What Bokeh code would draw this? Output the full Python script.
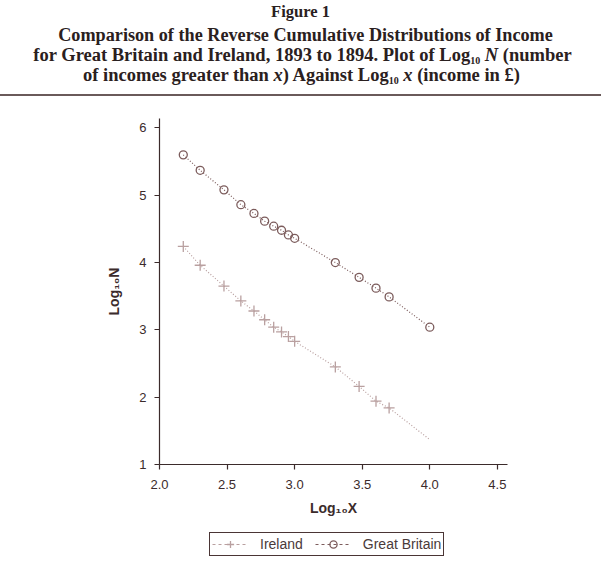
from bokeh.plotting import figure
from bokeh.models import (FixedTicker, Legend, LegendItem, CustomJSTickFormatter,
                          Div, Range1d)
from bokeh.layouts import column
from bokeh.embed import file_html
from bokeh.resources import INLINE

# log10 of income thresholds (pounds)
log_income = [2.176, 2.301, 2.477, 2.602, 2.699, 2.778, 2.845, 2.903,
              2.954, 3.000, 3.301, 3.477, 3.602, 3.699, 4.000]

# log10 of number of incomes above each threshold
great_britain = [5.60, 5.37, 5.08, 4.86, 4.73, 4.615, 4.54, 4.48,
                 4.41, 4.36, 4.00, 3.78, 3.62, 3.49, 3.04]
ireland = [4.24, 3.96, 3.65, 3.43, 3.28, 3.15, 3.04, 2.97,
           2.90, 2.83, 2.45, 2.16, 1.94, 1.84, 1.37]
# Ireland has no marker at the last threshold
ireland_marked = 14

x_ticks = [2.0, 2.5, 3.0, 3.5, 4.0, 4.5]
y_ticks = [1, 2, 3, 4, 5, 6]

SUB = '<span style="font-size:10px;position:relative;top:3px;">10</span>'
title_lines = [
    "Figure 1",
    "Comparison of the Reverse Cumulative Distributions of Income",
    "for Great Britain and Ireland, 1893 to 1894. Plot of Log" + SUB + " <i>N</i> (number",
    "of incomes greater than <i>x</i>) Against Log" + SUB + " <i>x</i> (income in &pound;)",
]
series_names = ["Ireland", "Great Britain"]

TEXT = "#3b2b2b"
GB_COL = "#7c5c5c"
IE_COL = "#b9a0a0"
W = 601
LEFT, RIGHT = 159, 94

# ---- heading ----
tops = [2, 25, 45, 65]
sizes = ["16.5px", "18.2px", "18.5px", "18.5px"]
shifts = [0, 5, 2, 1]
html = ""
for line, top, size, dx in zip(title_lines, tops, sizes, shifts):
    html += (f'<div style="position:absolute;left:{dx}px;top:{top}px;width:{W}px;'
             f'text-align:center;font-family:\'Liberation Serif\';font-weight:bold;'
             f'font-size:{size};line-height:20px;color:#2a2020;white-space:nowrap;">'
             f'{line}</div>')
html += (f'<div style="position:absolute;left:0;top:94px;width:{W}px;height:2px;'
         f'background:#6a5a5a;"></div>')
head = Div(text=html, width=W, height=100,
           styles={"position": "relative", "margin": "0", "padding": "0"})

# ---- main plot ----
p = figure(width=W, height=424, x_range=(2.0, 4.575), y_range=(1.0, 6.14),
           output_backend="svg", toolbar_location=None,
           min_border_left=LEFT, min_border_right=RIGHT,
           min_border_top=18, min_border_bottom=60)
p.outline_line_color = None
p.grid.visible = False
p.background_fill_color = "white"
p.border_fill_color = "white"

for ax in (p.xaxis[0], p.yaxis[0]):
    ax.axis_line_color = TEXT
    ax.axis_line_width = 1.2
    ax.major_tick_line_color = TEXT
    ax.major_tick_line_width = 1.2
    ax.major_tick_in = 0
    ax.major_tick_out = 5
    ax.minor_tick_line_color = None
    ax.major_label_text_font = "Liberation Sans"
    ax.major_label_text_font_size = "13px"
    ax.major_label_text_color = TEXT
    ax.axis_label_text_font = "Liberation Sans"
    ax.axis_label_text_font_size = "14px"
    ax.axis_label_text_font_style = "bold"
    ax.axis_label_text_color = TEXT

p.xaxis.ticker = FixedTicker(ticks=x_ticks)
p.yaxis.ticker = FixedTicker(ticks=y_ticks)
p.xaxis.formatter = CustomJSTickFormatter(code="return tick.toFixed(1);")
p.yaxis.formatter = CustomJSTickFormatter(code="return tick.toFixed(0);")
p.xaxis.major_label_standoff = 10
p.yaxis.major_label_standoff = 8
p.xaxis.axis_label = "Log\u2081\u2080X"
p.yaxis.axis_label = "Log\u2081\u2080N"
p.xaxis.axis_label_standoff = 8
p.yaxis.axis_label_standoff = 14


def draw_series(fig, dash):
    """Draw both series on fig; returns (line, marker) renderers per series."""
    ie_l = fig.line(log_income, ireland, line_color=IE_COL, line_width=1.2,
                    line_dash=dash)
    ie_m = fig.scatter(log_income[:ireland_marked], ireland[:ireland_marked],
                       marker="cross", size=11, line_color=IE_COL, line_width=1.3)
    gb_l = fig.line(log_income, great_britain, line_color=GB_COL, line_width=1.2,
                    line_dash=dash)
    gb_m = fig.scatter(log_income, great_britain, marker="circle", size=8,
                       fill_color="white", fill_alpha=0.0, line_color=GB_COL,
                       line_width=1.3)
    return (ie_l, ie_m), (gb_l, gb_m)


draw_series(p, "1 2")

# ---- key (series drawn off-range, used only for the legend swatches) ----
key = figure(width=W, height=50, x_range=Range1d(0, 1), y_range=Range1d(0, 1),
             output_backend="svg", toolbar_location=None,
             min_border_left=LEFT, min_border_right=RIGHT,
             min_border_top=0, min_border_bottom=0)
key.axis.visible = False
key.grid.visible = False
key.outline_line_color = None
key.background_fill_color = "white"
key.border_fill_color = "white"
ie_r, gb_r = draw_series(key, "3 3")

legend = Legend(items=[
    LegendItem(label=series_names[0], renderers=list(ie_r)),
    LegendItem(label=series_names[1], renderers=list(gb_r)),
], orientation="horizontal", location=(209 - LEFT, 18))
legend.border_line_color = "#4a3535"
legend.border_line_width = 1.5
legend.border_line_alpha = 1.0
legend.label_text_font = "Liberation Sans"
legend.label_text_font_size = "14px"
legend.label_text_color = "#4a3a3a"
legend.glyph_width = 36
legend.glyph_height = 18
legend.spacing = 12
legend.padding = 2
legend.margin = 0
legend.label_standoff = 12
legend.background_fill_color = "white"
legend.background_fill_alpha = 1.0
key.add_layout(legend)

layout = column(head, p, key, spacing=0)
open("out.html", "w").write(file_html(layout, INLINE))
